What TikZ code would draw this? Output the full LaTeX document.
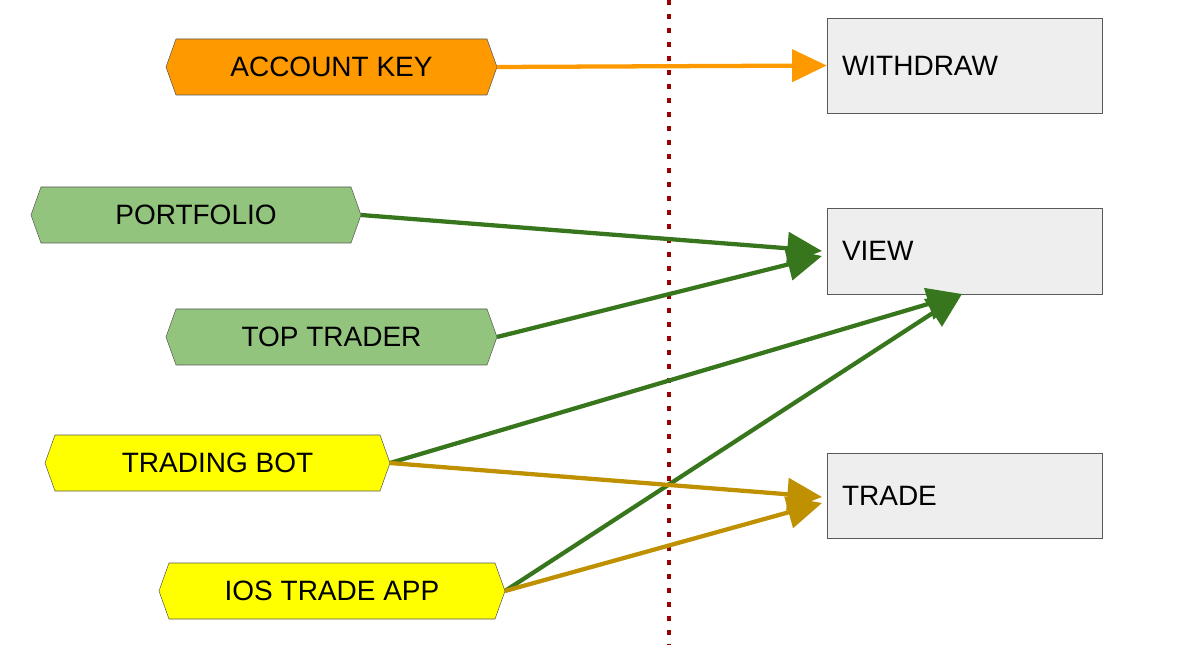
\documentclass[tikz,border=0pt]{standalone}
\usepackage{fontspec}
\setmainfont{Liberation Sans}
\usetikzlibrary{arrows.meta}
\definecolor{org}{HTML}{FF9900}
\definecolor{lgr}{HTML}{93C47D}
\definecolor{ylw}{HTML}{FFFF00}
\definecolor{dgr}{HTML}{38761D}
\definecolor{gold}{HTML}{BF9000}
\definecolor{box}{HTML}{EEEEEE}
\definecolor{edge}{HTML}{595959}
\definecolor{dred}{HTML}{990000}
\newcommand{\hexa}[6]{% name, x1, x2, ycenter, color, text
  \path[draw=edge,fill=#5] (#2,#4) -- (#2+10,#4-28) -- (#3-10,#4-28) -- (#3,#4) -- (#3-10,#4+28) -- (#2+10,#4+28) -- cycle;
  \node[inner sep=0] (#1) at ({(#2+#3)/2},#4) {#6};
  \coordinate (#1-e) at (#3,#4);}
\begin{document}
\begin{tikzpicture}[x=0.75pt,y=-0.75pt,
  every node/.style={font=\fontsize{21}{24}\selectfont},
  bx/.style={draw=edge,fill=box,minimum width=275*0.75pt,inner sep=0,text width=245*0.75pt,align=left},
  arr/.style={line width=3.2pt,-{Triangle[length=26pt,width=24pt]}}]
\useasboundingbox (0,0) rectangle (1200,652);
\draw[dred,line width=3.5pt,dash pattern=on 3.5pt off 7pt] (669,0) -- (669,645);
\hexa{ak}{166}{497}{67}{org}{ACCOUNT KEY}
\hexa{pf}{31}{361}{215}{lgr}{PORTFOLIO}
\hexa{tt}{166}{497}{337}{lgr}{TOP TRADER}
\hexa{tb}{45}{390}{463}{ylw}{TRADING BOT}
\hexa{ios}{159}{505}{591}{ylw}{IOS TRADE APP}
\node[bx,minimum height=95*0.75pt] (wd) at (964.5,65.5) {WITHDRAW};
\node[bx,minimum height=86*0.75pt] (vw) at (964.5,251) {VIEW};
\node[bx,minimum height=85*0.75pt] (tr) at (964.5,495.5) {TRADE};
\coordinate (vb) at (962,294);
\coordinate (vl) at (822,251);
\coordinate (vl2) at (822,256);
\coordinate (tl) at (822,497);
\coordinate (tl2) at (822,503);
\draw[arr,org] (ak-e) -- (wd.west);
\draw[arr,dgr] (pf-e) -- (vl);
\draw[arr,dgr] (tt-e) -- (vl2);
\draw[arr,dgr] (tb-e) -- (vb);
\draw[arr,dgr] (ios-e) -- (vb);
\draw[arr,gold] (tb-e) -- (tl);
\draw[arr,gold] (ios-e) -- (tl2);
\end{tikzpicture}
\end{document}
